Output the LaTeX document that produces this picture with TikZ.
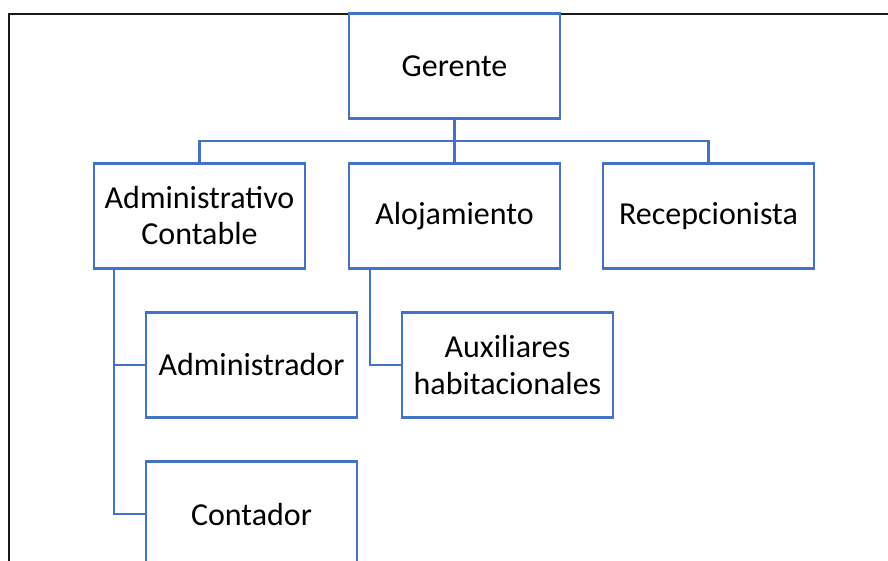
\documentclass[tikz,border=0pt]{standalone}
\usepackage{fontspec}
\setmainfont{Carlito}
\usetikzlibrary{positioning,calc}
\definecolor{orgblue}{HTML}{4472C4}

\begin{document}
\begin{tikzpicture}[
  x=1pt, y=-1pt,
  unit/.style={draw=orgblue, line width=2.4pt, fill=white, minimum width=211pt,
    minimum height=105pt, outer sep=0pt, inner sep=0pt,
    font=\fontsize{32}{36}\selectfont, align=center},
  link/.style={draw=orgblue, line width=2.4pt},
  frame/.style={draw=black!90, line width=2.2pt}
]
  \useasboundingbox (0,0) rectangle (888,560);
  \draw[frame] (9,600) |- (920,14);

  \node[unit] (ger) at (454.5,66) {Gerente};

  \node[unit, below=45pt of ger] (alo) {Alojamiento};
  \node[unit, left=44pt of alo] (adm) {Administrativo\\Contable};
  \node[unit, right=43pt of alo] (rec) {Recepcionista};

  \node[unit, below right=44pt and 52pt of adm.south west] (admr) {Administrador};
  \node[unit, below=44pt of admr] (cont) {Contador};
  \node[unit, below right=44pt and 53pt of alo.south west] (aux) {Auxiliares\\habitacionales};

  % Gerente branches
  \coordinate (bus) at ($(ger.south)!0.5!(alo.north)$);
  \draw[link] (ger.south) -- (alo.north);
  \draw[link] (adm.north) |- (bus) -| (rec.north);

  % sub-units hanging off the left side
  \draw[link] ([xshift=20pt]adm.south west) |- (admr.west);
  \draw[link] ([xshift=20pt]adm.south west) |- (cont.west);
  \draw[link] ([xshift=21pt]alo.south west) |- (aux.west);
\end{tikzpicture}
\end{document}
